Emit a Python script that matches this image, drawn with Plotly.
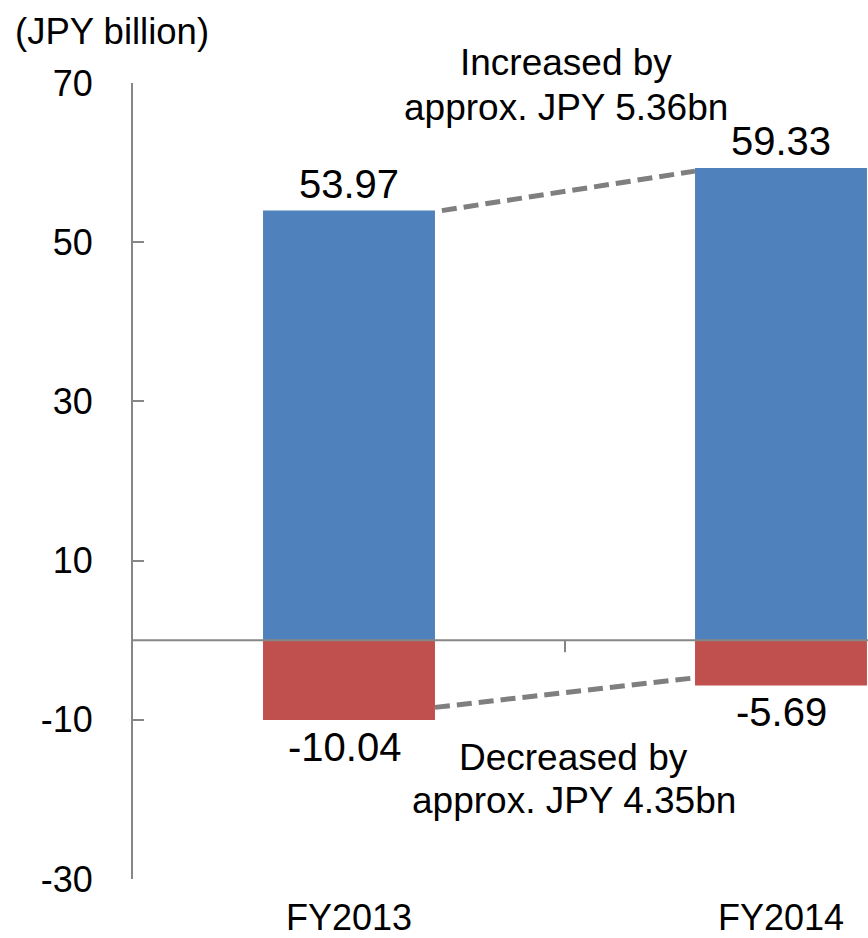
import plotly.graph_objects as go

# Fiscal years and results (JPY billion)
categories = ["FY2013", "FY2014"]
income = [53.97, 59.33]
loss = [-10.04, -5.69]
income_labels = ["53.97", "59.33"]
loss_labels = ["-10.04", "-5.69"]
ytick_vals = [-30, -10, 10, 30, 50, 70]
ytick_text = ["-30", "-10", "10", "30", "50", "70"]
unit_label = "(JPY billion)"
increase_note = ["Increased by", "approx. JPY 5.36bn"]
decrease_note = ["Decreased by", "approx. JPY 4.35bn"]

BLUE = "#4F81BD"
RED = "#C0504D"
GRAY = "#868686"
DASH = "#7F7F7F"
FONT = "Liberation Sans, Arial, sans-serif"
BAR_W = 0.398

fig = go.Figure()
fig.add_trace(go.Bar(x=[0, 1], y=income, width=BAR_W, marker=dict(color=BLUE, line=dict(width=0))))
fig.add_trace(go.Bar(x=[0, 1], y=loss, width=BAR_W, marker=dict(color=RED, line=dict(width=0))))

# Value labels above / below the bars
ann = []
for i, (v, t) in enumerate(zip(income, income_labels)):
    ann.append(dict(x=i, y=v, text=t, showarrow=False, yanchor="middle",
                    yshift=27, font=dict(size=40, color="black", family=FONT)))
for i, (v, t) in enumerate(zip(loss, loss_labels)):
    ann.append(dict(x=i, y=v, text=t, showarrow=False, yanchor="middle",
                    yshift=-27, xshift=-5 if i == 0 else 0,
                    font=dict(size=40, color="black", family=FONT)))

# Change notes
note_font = dict(size=37, color="black", family=FONT)
for j, line in enumerate(increase_note):
    ann.append(dict(xref="x", yref="paper", x=0.503, y=1, yanchor="middle",
                    yshift=(83 - 62) - 45 * j, text=line, showarrow=False, font=note_font))
for j, line in enumerate(decrease_note):
    ann.append(dict(xref="x", yref="paper", x=0.52, y=0, yanchor="middle",
                    yshift=(879 - 757) - 43 * j, text=line, showarrow=False, font=note_font))

# Unit label
ann.append(dict(xref="paper", yref="paper", x=0, y=1, xanchor="left", yanchor="middle",
                xshift=-120, yshift=52, text=unit_label, showarrow=False,
                font=dict(size=36.5, color="black", family=FONT)))

shapes = [
    # horizontal category axis at zero
    dict(type="line", xref="paper", yref="y", x0=0, x1=1, y0=0, y1=0,
         line=dict(color=GRAY, width=2), layer="above"),
    # category divider tick
    dict(type="line", xref="x", yref="y", ysizemode="pixel", yanchor=0,
         x0=0.5, x1=0.5, y0=0, y1=-12, line=dict(color=GRAY, width=2), layer="above"),
    # connectors between the two years
    dict(type="line", xref="x", yref="y", x0=BAR_W / 2 + 0.016, y0=income[0],
         x1=1 - BAR_W / 2, y1=income[1] - 0.4,
         line=dict(color=DASH, width=5, dash="15px,7px")),
    dict(type="line", xref="x", yref="y", x0=BAR_W / 2, y0=loss[0] + 1.6,
         x1=1 - BAR_W / 2 - 0.01, y1=loss[1] + 0.9,
         line=dict(color=DASH, width=5, dash="15px,7px")),
]

fig.update_layout(
    width=868, height=938,
    margin=dict(l=133, r=0, t=83, b=59, autoexpand=False),
    paper_bgcolor="white", plot_bgcolor="white",
    barmode="relative", showlegend=False,
    font=dict(family=FONT, color="black"),
    annotations=ann, shapes=shapes,
    xaxis=dict(range=[-0.5, 1.2014], tickvals=[0, 1], ticktext=categories,
               showline=False, showgrid=False, zeroline=False, ticks="",
               tickfont=dict(size=36, color="black", family=FONT),
               ticklabelstandoff=14, automargin=False, fixedrange=True),
    yaxis=dict(range=[-30, 70], tickvals=ytick_vals, ticktext=ytick_text,
               showgrid=False, zeroline=False,
               showline=True, linecolor=GRAY, linewidth=2,
               ticks="inside", ticklen=11, tickcolor=GRAY, tickwidth=2,
               tickfont=dict(size=36, color="black", family=FONT),
               ticklabelstandoff=31, automargin=False, fixedrange=True),
)

fig.write_html("out.html")
